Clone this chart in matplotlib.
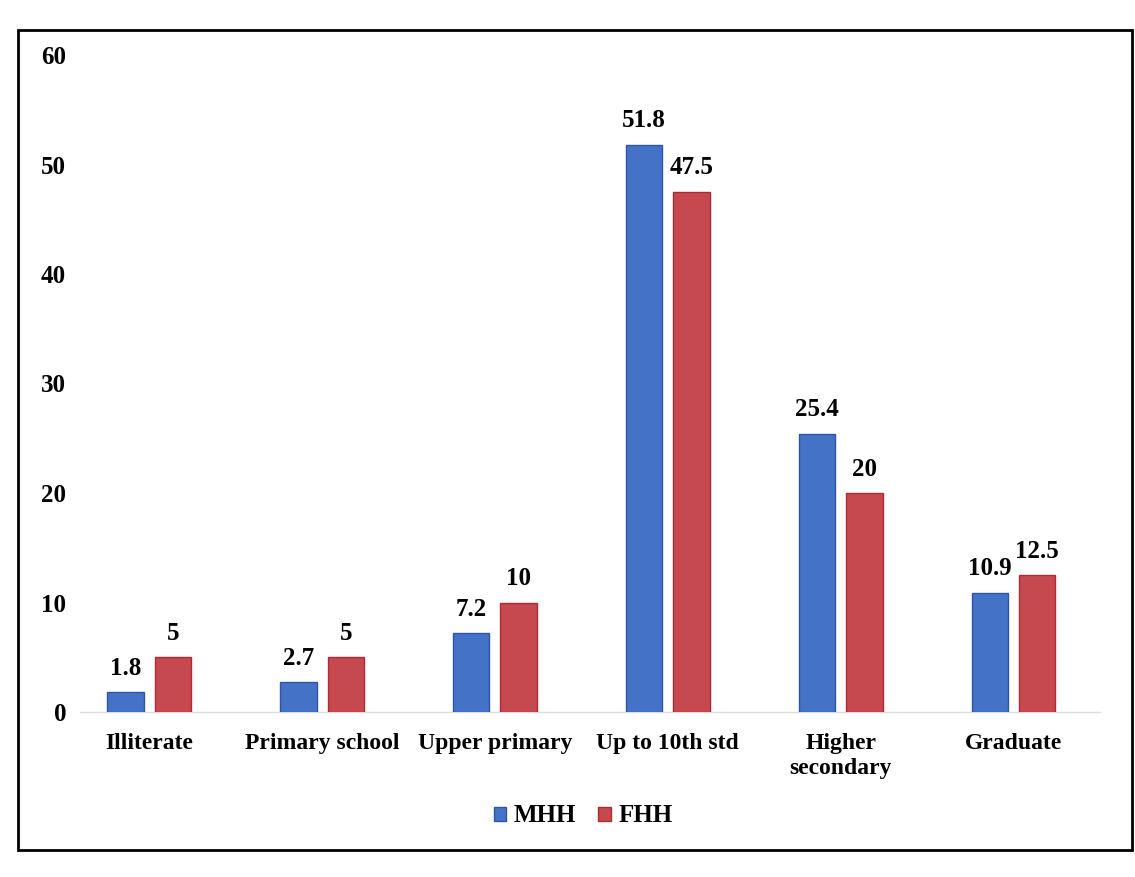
import matplotlib.pyplot as plt
from matplotlib.patches import Rectangle
import numpy as np

plt.rcParams['font.family'] = ['Liberation Serif', 'DejaVu Serif']
plt.rcParams['font.weight'] = 'bold'

categories = ['Illiterate', 'Primary school', 'Upper primary', 'Up to 10th std',
              'Higher\nsecondary', 'Graduate']
mhh = [1.8, 2.7, 7.2, 51.8, 25.4, 10.9]
fhh = [5, 5, 10, 47.5, 20, 12.5]

blue = '#4372C6'
red = '#C6494F'

fig = plt.figure(figsize=(11.35, 8.77), dpi=100)
W, H = 1135, 877
ax = fig.add_axes([80 / W, (H - 712) / H, 1020 / W, (712 - 55) / H])

x = np.arange(len(categories))
width = 0.21
offset = 0.137
bars_m = ax.bar(x - offset, mhh, width, color=blue, edgecolor='#2F55A8',
                linewidth=1, label='MHH', zorder=3)
bars_f = ax.bar(x + offset, fhh, width, color=red, edgecolor='#B02A35',
                linewidth=1, label='FHH', zorder=3)

for bars, vals in ((bars_m, mhh), (bars_f, fhh)):
    for b, v in zip(bars, vals):
        ax.annotate(f'{v:g}', (b.get_x() + b.get_width() / 2, v),
                    xytext=(0, 9), textcoords='offset points',
                    ha='center', va='bottom', fontsize=18, fontweight='bold')

ax.set_xlim(-0.4, 5.5)
ax.set_ylim(0, 60)
ax.set_yticks(range(0, 61, 10))
ax.set_xticks(x)
ax.set_xticklabels(categories, fontsize=17, fontweight='bold', linespacing=1.25)
ax.tick_params(axis='y', length=0, pad=10, labelsize=18)
ax.tick_params(axis='x', length=0, pad=15)

for side in ('top', 'right', 'left'):
    ax.spines[side].set_visible(False)
ax.spines['bottom'].set_color('#DDDDDD')
ax.spines['bottom'].set_linewidth(1)

fig.legend(loc='center', bbox_to_anchor=(583 / W, (H - 816) / H), ncol=2,
           frameon=False, fontsize=18, handlelength=0.5, handleheight=0.5,
           handletextpad=0.3, columnspacing=0.9)

# outer border around the chart
fig.patches.append(Rectangle((18 / W, (H - 850) / H), 1114 / W, 820 / H,
                             transform=fig.transFigure, fill=False,
                             edgecolor='black', linewidth=2))

fig.savefig('out.png', dpi=100)
